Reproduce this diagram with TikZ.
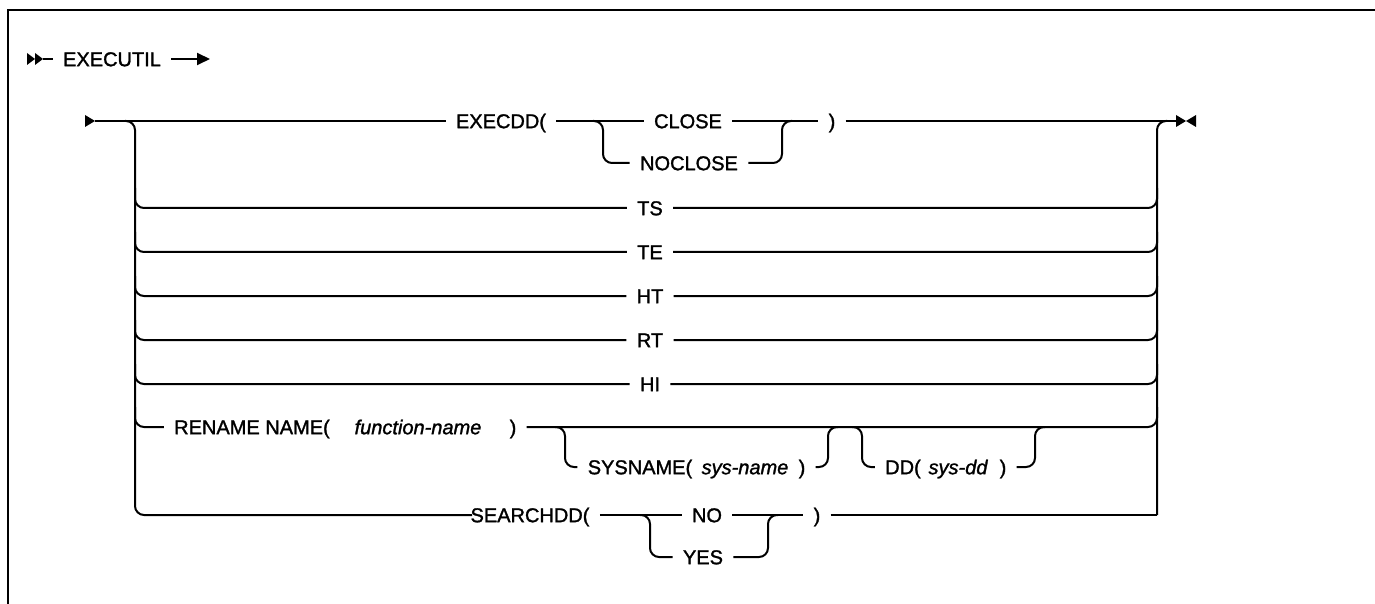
\documentclass[tikz,border=0pt]{standalone}
\usepackage{fontspec}
\newfontfamily\railfont{Liberation Sans}[FakeBold=1.4]
\usetikzlibrary{arrows.meta}

\tikzset{
  rail/.style={line width=1pt, rounded corners=4.5pt},
  kw/.style={font=\railfont\fontsize{10}{12}\selectfont, inner xsep=5pt, inner ysep=0pt,
    text height=7.2pt, text depth=0pt},
  var/.style={kw, font=\railfont\fontsize{10}{12}\selectfont\itshape},
}

\begin{document}
\begin{tikzpicture}[x=0.5pt, y=-0.5pt]
  \useasboundingbox (0,0) rectangle (1375,604);
  % frame
  \draw[line width=1.3pt] (8,604) -- (8,10) -- (1375,10);
  % statement start
  \fill (27,53) -- (35,59) -- (27,65) -- cycle;
  \fill (35,53) -- (43,59) -- (35,65) -- cycle;
  \coordinate (s0) at (43,59);
  \coordinate (s1) at (210,59);
  \node[kw] (executil) at (112,59) {EXECUTIL};
  \draw[rail] (s0) -- (executil.west);
  \draw[rail, -{Triangle[length=6.5pt, width=6pt]}] (executil.east) -- (s1);
  % main line: start and end marks
  \coordinate (m0) at (95,121);
  \coordinate (m1) at (1176,121);
  \coordinate (lv) at (135,121);
  \coordinate (rv) at (1157,121);
  \fill (85,115) -- (m0) -- (85,127) -- cycle;
  \fill (1176,115) -- (1186,121) -- (1176,127) -- cycle;
  \fill (1196,115) -- (1186,121) -- (1196,127) -- cycle;
  % EXECDD( CLOSE | NOCLOSE )
  \node[kw] (execdd) at (501,121) {EXECDD(};
  \node[kw] (close) at (688,121) {CLOSE};
  \node[kw] (noclose) at (689,163) {NOCLOSE};
  \node[kw] (rpar1) at (832,121) {)};
  \coordinate (bl1) at (603,121);
  \coordinate (br1) at (782,121);
  \draw[rail] (m0) -- (execdd.west);
  \draw[rail] (execdd.east) -- (close.west);
  \draw[rail] (close.east) -- (rpar1.west);
  \draw[rail] (rpar1.east) -- (m1);
  \draw[rail] ([xshift=-5pt]bl1) -- (bl1) -- (bl1 |- noclose) -- (noclose.west);
  \draw[rail] (noclose.east) -- (br1 |- noclose) -- (br1) -- ([xshift=5pt]br1);
  % left and right rails
  \draw[rail] ([xshift=-5pt]lv) -- (lv) -- (lv |- 0,515) -- (472,515);
  \draw[rail] (rv |- 0,515) -- (rv) -- ([xshift=5pt]rv);
  % single keywords
  \node[kw] (ts) at (650,208) {TS};
  \node[kw] (te) at (650,252) {TE};
  \node[kw] (ht) at (650,296) {HT};
  \node[kw] (rt) at (650,340) {RT};
  \node[kw] (hi) at (650,384) {HI};
  \draw[rail] (ts.west) -- (lv |- ts) -- ++(0,-20);
  \draw[rail] (ts.east) -- (rv |- ts) -- ++(0,-20);
  \draw[rail] (te.west) -- (lv |- te) -- ++(0,-20);
  \draw[rail] (te.east) -- (rv |- te) -- ++(0,-20);
  \draw[rail] (ht.west) -- (lv |- ht) -- ++(0,-20);
  \draw[rail] (ht.east) -- (rv |- ht) -- ++(0,-20);
  \draw[rail] (rt.west) -- (lv |- rt) -- ++(0,-20);
  \draw[rail] (rt.east) -- (rv |- rt) -- ++(0,-20);
  \draw[rail] (hi.west) -- (lv |- hi) -- ++(0,-20);
  \draw[rail] (hi.east) -- (rv |- hi) -- ++(0,-20);
  % RENAME NAME( function-name ) [SYSNAME( sys-name )] [DD( sys-dd )]
  \node[kw] (rename) at (252,427) {RENAME NAME(};
  \node[var] (fname) at (418,427) {function-name};
  \node[kw] (rpar2) at (513,427) {)};
  \draw[rail] (rename.west) -- (lv |- rename) -- ++(0,-20);
  \draw[rail] (rpar2.east) -- (rv |- rpar2) -- ++(0,-20);
  \node[kw] (sysname) at (640,467) {SYSNAME(};
  \node[var] (sysnm) at (745,467) {sys-name};
  \node[kw] (rpar3) at (802,467) {)};
  \coordinate (bl2) at (565,427);
  \coordinate (br2) at (828,427);
  \draw[rail] ([xshift=-5pt]bl2) -- (bl2) -- (bl2 |- sysname) -- (sysname.west);
  \draw[rail] (rpar3.east) -- (br2 |- rpar3) -- (br2) -- ([xshift=5pt]br2);
  \node[kw] (dd) at (903,467) {DD(};
  \node[var] (sysdd) at (958,467) {sys-dd};
  \node[kw] (rpar4) at (1003,467) {)};
  \coordinate (bl3) at (862,427);
  \coordinate (br3) at (1035,427);
  \draw[rail] ([xshift=-5pt]bl3) -- (bl3) -- (bl3 |- dd) -- (dd.west);
  \draw[rail] (rpar4.east) -- (br3 |- rpar4) -- (br3) -- ([xshift=5pt]br3);
  % SEARCHDD( NO | YES )
  \node[kw] (searchdd) at (530,515) {SEARCHDD(};
  \node[kw] (no) at (707,515) {NO};
  \node[kw] (yes) at (703,557) {YES};
  \node[kw] (rpar5) at (817,515) {)};
  \coordinate (bl4) at (650,515);
  \coordinate (br4) at (768,515);
  \draw[rail] (searchdd.east) -- (no.west);
  \draw[rail] (no.east) -- (rpar5.west);
  \draw[rail] (rpar5.east) -- (rv |- rpar5);
  \draw[rail] ([xshift=-5pt]bl4) -- (bl4) -- (bl4 |- yes) -- (yes.west);
  \draw[rail] (yes.east) -- (br4 |- yes) -- (br4) -- ([xshift=5pt]br4);
\end{tikzpicture}
\end{document}
